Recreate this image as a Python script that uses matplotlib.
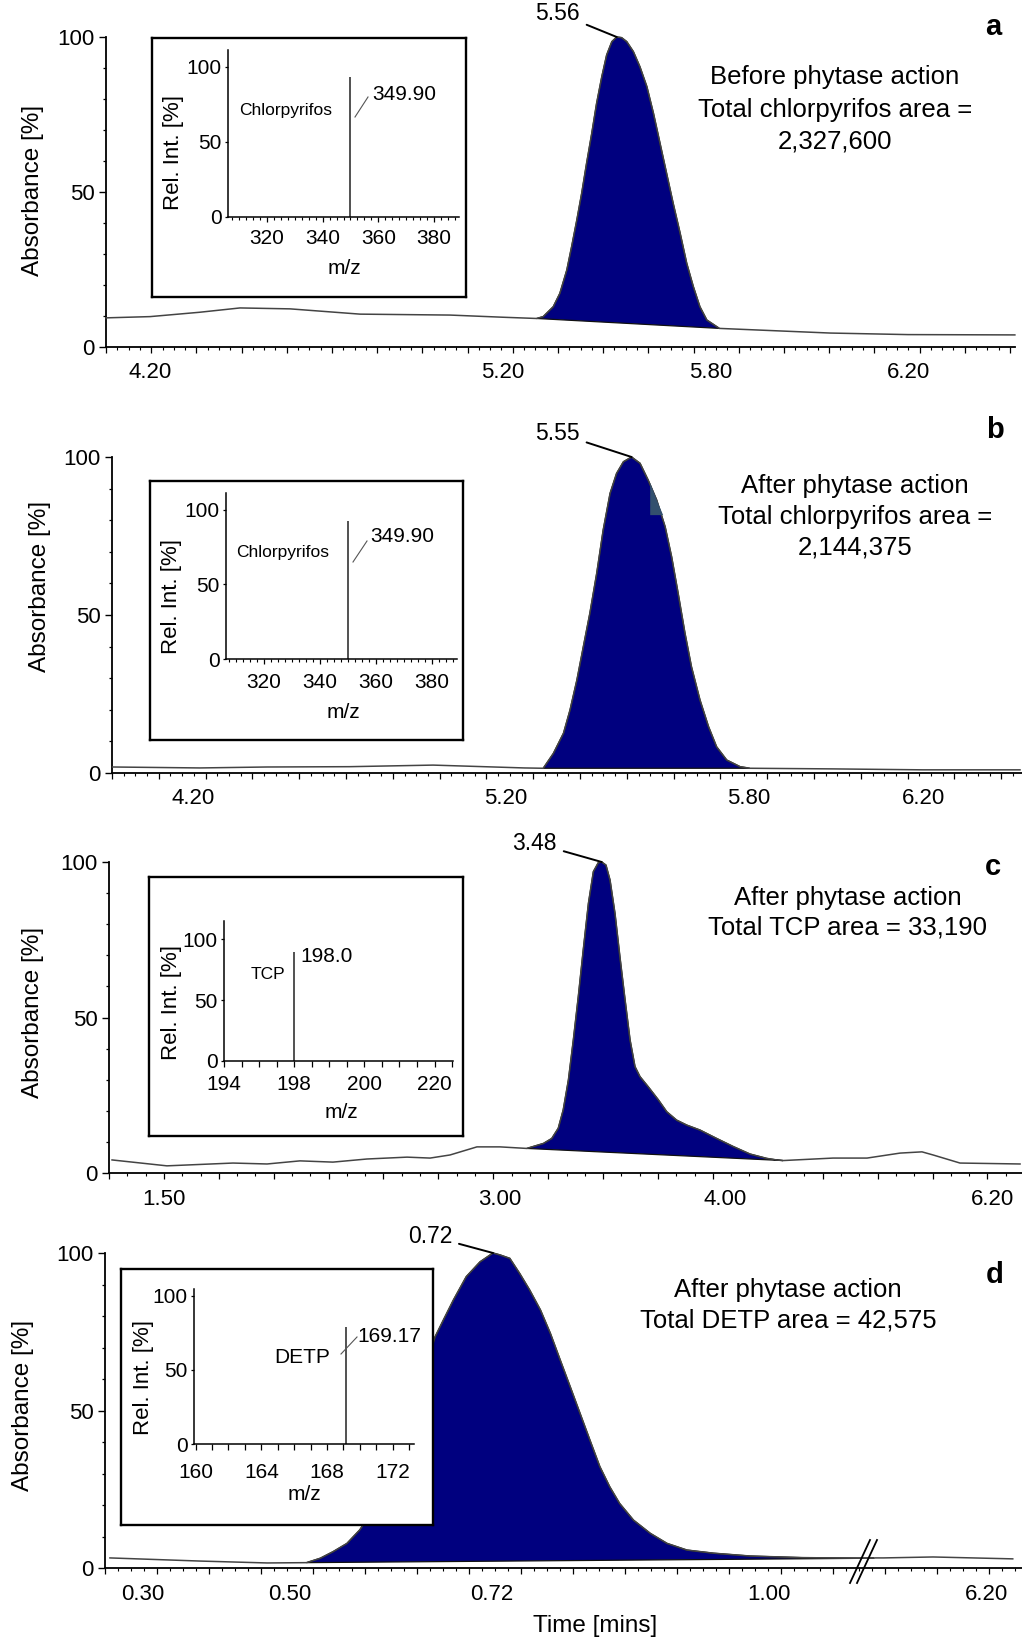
import numpy as np
import matplotlib.pyplot as plt
from matplotlib.lines import Line2D

plt.rcParams['font.family'] = ['Liberation Sans', 'DejaVu Sans']

W, H = 1022, 1642
NAVY = '#00007f'
TRACE = '#444444'

# ---------------- chromatograms: time [min] vs absorbance [%] ----------------
a_time = [4.075, 4.20, 4.34, 4.455, 4.597, 4.795, 5.05, 5.20, 5.297,
          5.316, 5.345, 5.364, 5.384, 5.398, 5.413, 5.427, 5.441, 5.456, 5.470,
          5.485, 5.499, 5.514, 5.528, 5.542, 5.557, 5.576, 5.595, 5.615, 5.634,
          5.653, 5.672, 5.691, 5.711, 5.730, 5.749, 5.768, 5.788, 5.817,
          6.042, 6.20, 6.417]
a_abs = [9.4, 9.8, 11.2, 12.6, 12.3, 10.6, 10.3, 9.6, 9.2,
         9.8, 13.0, 17.3, 24.8, 32.4, 41.0, 49.6, 59.2, 68.9, 78.6,
         87.2, 94.2, 98.5, 100.0, 99.8, 98.5, 95.3, 90.4, 84.0, 75.4,
         65.7, 56.0, 46.3, 36.7, 27.0, 19.5, 13.0, 8.7, 6.0,
         4.5, 4.0, 3.9]
a_window = (5.297, 5.817)

b_time = [3.943, 4.222, 4.436, 4.70, 4.967, 5.245,
          5.292, 5.317, 5.342, 5.358, 5.375, 5.391, 5.407, 5.424, 5.440, 5.457,
          5.473, 5.490, 5.510, 5.531, 5.551, 5.572, 5.593, 5.609, 5.625, 5.642,
          5.658, 5.679, 5.700, 5.720, 5.745, 5.778, 5.802,
          5.993, 6.20, 6.423]
b_abs = [1.9, 1.6, 1.9, 2.0, 2.5, 1.6,
         1.5, 6.2, 12.6, 19.9, 29.4, 40.0, 50.5, 63.2, 76.9, 88.5,
         94.8, 98.5, 100.0, 98.0, 92.7, 86.4, 77.9, 68.4, 56.9, 44.2,
         33.6, 23.1, 14.7, 8.3, 4.1, 2.0, 1.5,
         1.3, 1.0, 1.0]
b_window = (5.292, 5.802)
# small integration marker on the right flank of peak b
b_mark_time = [5.556, 5.572, 5.588, 5.588, 5.556]
b_mark_abs = [91.8, 86.4, 81.6, 81.6, 81.6]

c_time = [1.268, 1.513, 1.808, 1.960, 2.107, 2.254, 2.406, 2.585, 2.688, 2.777, 2.897, 3.000,
          3.119, 3.193, 3.230, 3.259, 3.281, 3.304, 3.326, 3.348, 3.370, 3.393, 3.415,
          3.437, 3.452, 3.471, 3.489, 3.511, 3.533, 3.556, 3.578, 3.600, 3.622, 3.659,
          3.704, 3.741, 3.785, 3.830, 3.889, 3.963, 4.068, 4.205, 4.342, 4.424, 4.476,
          4.887, 5.166, 5.437, 5.617, 5.708, 5.929, 6.422]
c_abs = [4.2, 2.3, 3.2, 2.9, 3.9, 3.5, 4.5, 5.1, 4.8, 5.8, 8.4, 8.4,
         7.9, 9.5, 11.1, 14.4, 20.3, 29.9, 42.8, 56.7, 71.7, 86.7, 96.9,
         99.8, 100.0, 99.0, 94.2, 83.5, 69.5, 55.6, 42.8, 34.2, 31.0, 27.7,
         23.5, 19.7, 17.0, 15.4, 13.8, 11.1, 8.5, 6.1, 4.7, 4.2, 4.0,
         4.8, 4.8, 6.4, 6.8, 5.8, 3.2, 2.9]
c_window = (3.119, 4.476)

d_time = [0.255, 0.378, 0.469,
          0.518, 0.533, 0.547, 0.562, 0.576, 0.594, 0.610, 0.626, 0.639, 0.658, 0.667,
          0.678, 0.692, 0.707, 0.721, 0.728, 0.738, 0.748, 0.758, 0.769, 0.779, 0.789,
          0.799, 0.809, 0.819, 0.829, 0.839, 0.849, 0.863, 0.880, 0.897, 0.917, 0.944,
          0.981, 1.031, 1.085, 1.10,
          6.00, 6.016, 6.105, 6.248]
d_abs = [3.2, 2.2, 1.6,
         1.7, 3.1, 5.2, 7.8, 12.1, 20.0, 30.0, 42.0, 55.0, 73.4, 78.7,
         85.1, 92.5, 97.2, 100.0, 99.4, 98.3, 93.5, 88.3, 81.9, 74.5, 66.0,
         57.6, 49.1, 40.6, 32.2, 25.8, 20.5, 15.2, 11.0, 7.8, 5.7, 4.7,
         3.8, 3.3, 3.1, 3.1,
         3.2, 3.2, 3.5, 2.9]
d_window = (0.518, 1.10)
d_break = (1.10, 6.00)

a_ticks = [4.20, 5.20, 5.80, 6.20]
b_ticks = [4.20, 5.20, 5.80, 6.20]
c_ticks = [1.50, 3.00, 4.00, 6.20]
d_ticks = [0.30, 0.50, 0.72, 1.00, 6.20]

apex_labels = ['5.56', '5.55', '3.48', '0.72']
notes = [['Before phytase action', 'Total chlorpyrifos area =', '2,327,600'],
         ['After phytase action', 'Total chlorpyrifos area =', '2,144,375'],
         ['After phytase action', 'Total TCP area = 33,190'],
         ['After phytase action', 'Total DETP area = 42,575']]
letters = ['a', 'b', 'c', 'd']

# ---------------- mass spectra insets ----------------
ms_mz = [349.90, 349.90, 198.0, 169.17]
ms_rel = [93, 92.6, 89.3, 79]
ms_peak_labels = ['349.90', '349.90', '198.0', '169.17']
ms_names = ['Chlorpyrifos', 'Chlorpyrifos', 'TCP', 'DETP']
ab_mz_ticks = [320, 340, 360, 380]
c_mz_ticks = [194, 198, 200, 220]
d_mz_ticks = [160, 164, 168, 172]

# ---------------- layout (pixels) ----------------
L = [
    dict(ax=(106, 1015, 37, 347), tick_px=[150, 503, 711, 908], step=11.3, every=4,
         ylab=(33, 190), letter=(993, 27), note=(835, [77, 110, 142]), off=(-59, 24),
         box=(152, 466, 38, 297), ins=(228, 459, 50, 217), ins_x=(306, 389), ins_top=111.3,
         name=(286, 110), nsize=12.5, mzlab=(372, 95), lead=((355, 117), (368, 97)),
         iyl=(174, 153), mzt=(344, 269), tly=21),
    dict(ax=(112, 1022, 457, 773), tick_px=[193, 506, 749, 923], step=11.7, every=4,
         ylab=(40, 586), letter=(995, 430), note=(855, [486, 517, 548]), off=(-74, 24),
         box=(150, 463, 481, 740), ins=(226, 457, 493, 659), ins_x=(306.4, 389), ins_top=111.4,
         name=(283, 553), nsize=12.5, mzlab=(370, 537), lead=((353, 562), (367, 541)),
         iyl=(172, 597), mzt=(343, 712), tly=23),
    dict(ax=(109, 1022, 862, 1173), tick_px=[164, 500, 725, 993], step=18.3, every=3,
         ylab=(33, 1012), letter=(993, 867), note=(848, [898, 928]), off=(-67, 19),
         box=(149, 463, 877, 1136), ins=(224, 453, 921, 1061), ins_x=(194, 225.25), ins_top=114.8,
         name=(268, 974), nsize=12.5, mzlab=(300, 957), lead=None,
         iyl=(171, 1003), mzt=(341, 1112), tly=24),
    dict(ax=(105, 1022, 1253, 1568), tick_px=[143, 290, 492, 769, 986], step=13, every=4,
         ylab=(23, 1405), letter=(995, 1275), note=(788, [1290, 1320]), off=(-63, 17),
         box=(121, 433, 1269, 1525), ins=(194, 414, 1289, 1444), ins_x=(159.9, 173.3), ins_top=104.7,
         name=(302, 1357), nsize=15, mzlab=(357, 1336), lead=((341, 1354), (357, 1337)),
         iyl=(143, 1377), mzt=(304, 1494), tly=28, brk_px=874),
]

traces = [(a_time, a_abs, a_window, a_ticks), (b_time, b_abs, b_window, b_ticks),
          (c_time, c_abs, c_window, c_ticks), (d_time, d_abs, d_window, d_ticks)]


def rect(l, r, top, bottom):
    return [l / W, 1 - bottom / H, (r - l) / W, (bottom - top) / H]


def fx(x):
    return x / W


def fy(y):
    return 1 - y / H


def knots(ticks, tick_px, left, right, brk=None, brk_px=None):
    t = list(ticks)
    p = [float(v) for v in tick_px]
    if brk is not None:
        i = next(k for k, v in enumerate(t) if v > brk[1])
        t = t[:i] + [brk[0], brk[1]] + t[i:]
        p = p[:i] + [brk_px, brk_px + 0.5] + p[i:]
    s0 = (t[1] - t[0]) / (p[1] - p[0])
    s1 = (t[-1] - t[-2]) / (p[-1] - p[-2])
    t = [t[0] - (p[0] - left) * s0] + t + [t[-1] + (right - p[-1]) * s1]
    p = [left] + p + [right]
    return np.array(t), np.array(p)


def xlabels(ax, vals, texts, dy_px, size):
    for v, s in zip(vals, texts):
        ax.annotate(s, xy=(v, 0), xycoords=('data', 'axes fraction'),
                    xytext=(0, -dy_px * 0.72), textcoords='offset points',
                    ha='center', va='center', fontsize=size, annotation_clip=False)


fig = plt.figure(figsize=(W / 100, H / 100), dpi=100)

for k, ((t, y, win, ticks), lay) in enumerate(zip(traces, L)):
    left, right, top, bottom = lay['ax']
    ax = fig.add_axes(rect(*lay['ax']))
    kt, kp = knots(ticks, lay['tick_px'], left, right,
                   d_break if k == 3 else None, lay.get('brk_px'))
    ax.set_xscale('function', functions=(lambda v, kt=kt, kp=kp: np.interp(v, kt, kp),
                                         lambda v, kt=kt, kp=kp: np.interp(v, kp, kt)))
    ax.set_xlim(kt[0], kt[-1])
    ax.set_ylim(0, 100)

    t = np.array(t)
    y = np.array(y)
    m = (t >= win[0]) & (t <= win[1])
    ax.fill(t[m], y[m], facecolor=NAVY, edgecolor='#111111', lw=0.9, zorder=2, clip_on=False)
    ax.plot(t, y, color=TRACE, lw=1.1, zorder=3, clip_on=False, solid_joinstyle='round')
    if k == 1:
        ax.fill(b_mark_time, b_mark_abs, facecolor='#33506e', edgecolor='none', zorder=3)

    for s in ['top', 'right']:
        ax.spines[s].set_visible(False)
    for s in ['left', 'bottom']:
        ax.spines[s].set_linewidth(1.3)

    grid_px = np.arange(left, right + 0.1, lay['step'])
    grid_t = np.interp(grid_px, kp, kt)
    ax.set_xticks(grid_t[::lay['every']])
    ax.set_xticks(grid_t, minor=True)
    ax.tick_params(axis='x', which='major', length=4.5, width=0.9, direction='out',
                   labelbottom=False)
    ax.tick_params(axis='x', which='minor', length=2.5, width=0.8, direction='out')
    ax.set_yticks([0, 50, 100])
    ax.set_yticks(np.arange(0, 101, 10), minor=True)
    ax.tick_params(axis='y', which='major', length=5, width=1.0, labelsize=16, pad=3)
    ax.tick_params(axis='y', which='minor', length=2.5, width=0.9)
    xlabels(ax, ticks, ['%.2f' % v for v in ticks], 26, 16)

    # apex label
    i = int(np.argmax(y))
    ox, oy = lay['off']
    ax.annotate(apex_labels[k], xy=(t[i], y[i]), xytext=(ox * 0.72, oy * 0.72),
                textcoords='offset points', ha='center', va='center', fontsize=16.5,
                arrowprops=dict(arrowstyle='-', lw=1.4, color='black', shrinkA=3, shrinkB=0),
                annotation_clip=False, zorder=4)

    fig.text(fx(lay['ylab'][0]), fy(lay['ylab'][1]), 'Absorbance [%]', rotation=90,
             ha='center', va='center', fontsize=17.5)
    fig.text(fx(lay['letter'][0]), fy(lay['letter'][1]), letters[k], ha='center',
             va='center', fontsize=21, fontweight='bold')
    nx, nys = lay['note']
    for line, ny in zip(notes[k], nys):
        fig.text(fx(nx), fy(ny), line, ha='center', va='center', fontsize=18.5)

    # ---------- inset ----------
    bx = fig.add_axes(rect(*lay['box']))
    bx.set_facecolor('white')
    bx.set_xticks([])
    bx.set_yticks([])
    for s in bx.spines.values():
        s.set_linewidth(1.7)
    bx.set_zorder(5)

    ix = fig.add_axes(rect(*lay['ins']))
    ix.set_zorder(6)
    ix.patch.set_alpha(0)
    for s in ['top', 'right']:
        ix.spines[s].set_visible(False)
    for s in ['left', 'bottom']:
        ix.spines[s].set_linewidth(1.1)
    ix.set_ylim(0, lay['ins_top'])

    if k == 2:
        idx = [0, 4, 8, 12]
        ckt = np.array(c_mz_ticks + [lay['ins_x'][1]], dtype=float)
        ckp = np.array(idx + [13.05], dtype=float)
        ix.set_xscale('function', functions=(lambda v: np.interp(v, ckt, ckp),
                                             lambda v: np.interp(v, ckp, ckt)))
        ix.set_xlim(*lay['ins_x'])
        mz_ticks = c_mz_ticks
        ix.set_xticks(np.interp(np.arange(0, 14), ckp, ckt), minor=True)
        ix.set_xticks(mz_ticks)
        ix.tick_params(axis='x', which='both', length=4.5, width=0.9, labelbottom=False)
    else:
        ix.set_xlim(*lay['ins_x'])
        mz_ticks = d_mz_ticks if k == 3 else ab_mz_ticks
        ix.set_xticks(mz_ticks)
        if k == 3:
            ix.set_xticks(np.arange(160, 174, 1), minor=True)
            ix.tick_params(axis='x', which='both', length=4.5, width=0.9, labelbottom=False)
        else:
            ix.set_xticks(np.arange(307.5, 390, 2.5), minor=True)
            ix.tick_params(axis='x', which='major', length=3.5, width=0.9, labelbottom=False)
            ix.tick_params(axis='x', which='minor', length=2.2, width=0.8)
    ix.set_yticks([0, 50, 100])
    ix.tick_params(axis='y', length=2.5, width=0.9, labelsize=15, pad=2)
    xlabels(ix, mz_ticks, [str(v) for v in mz_ticks], lay['tly'], 15)

    ix.vlines([ms_mz[k]], 0, [ms_rel[k]], color='#333333', lw=1.2)

    fig.text(fx(lay['iyl'][0]), fy(lay['iyl'][1]), 'Rel. Int. [%]', rotation=90,
             ha='center', va='center', fontsize=16, zorder=7)
    fig.text(fx(lay['mzt'][0]), fy(lay['mzt'][1]), 'm/z', ha='center', va='center',
             fontsize=15, zorder=7)
    fig.text(fx(lay['name'][0]), fy(lay['name'][1]), ms_names[k], ha='center',
             va='center', fontsize=lay['nsize'], zorder=7)
    fig.text(fx(lay['mzlab'][0]), fy(lay['mzlab'][1]), ms_peak_labels[k], ha='left',
             va='center', fontsize=15, zorder=7)
    if lay['lead'] is not None:
        (x0, y0), (x1, y1) = lay['lead']
        fig.add_artist(Line2D([fx(x0), fx(x1)], [fy(y0), fy(y1)], color='#555555',
                              lw=0.8, zorder=7))

    if k == 3:
        bp = lay['brk_px']
        for dx in (-24, -17):
            fig.add_artist(Line2D([fx(bp + dx), fx(bp + dx + 20)], [fy(1583), fy(1540)],
                                  color='black', lw=1.3, zorder=7))

fig.text(fx(595), fy(1626), 'Time [mins]', ha='center', va='center', fontsize=17.5)

fig.savefig('out.png', dpi=100)
